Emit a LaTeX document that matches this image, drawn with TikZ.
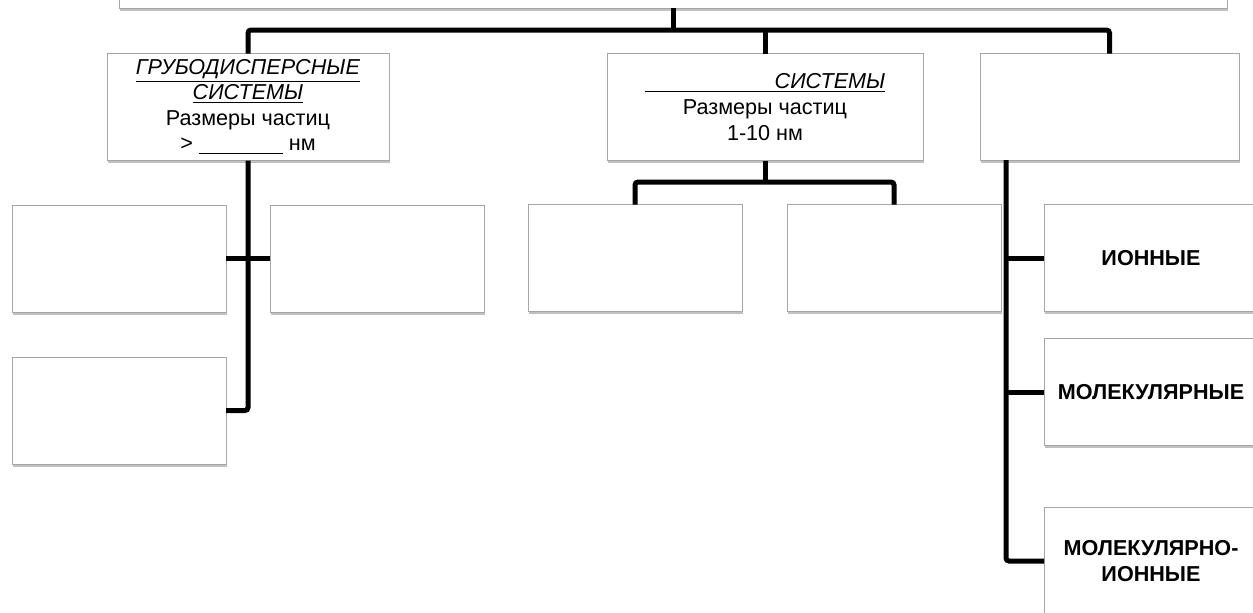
\documentclass[tikz,border=0pt]{standalone}
\usepackage{fontspec}
\setmainfont{Liberation Sans}
\usetikzlibrary{shadows}

\tikzset{
    box/.style={draw=black!35, line width=0.5pt, fill=white, inner sep=0pt, outer sep=0pt,
        minimum width=107pt, minimum height=53.5pt, align=center,
        font=\fontsize{10.8}{12.8}\selectfont,
        drop shadow={shadow xshift=0.5pt, shadow yshift=-1.4pt, opacity=0.3, fill=black!80}},
    link/.style={line width=2.5pt, rounded corners=1.5pt}
}

\begin{document}
\begin{tikzpicture}[x=0.5pt, y=-0.5pt]
    \useasboundingbox (0,0) rectangle (1253,612);
    \clip (0,0) rectangle (1253,612);

    % Top level
    \node[box, minimum width=554pt, minimum height=30pt] (top) at (673,-22) {};

    % Second level
    \node[box, minimum width=141pt] (coarse) at (248,107)
        {\underline{\textit{ГРУБОДИСПЕРСНЫЕ}}\\
         \underline{\textit{СИСТЕМЫ}}\\
         Размеры частиц\\
         > \underline{\hspace{42pt}} нм};
    \node[box, minimum width=158pt] (colloid) at (765,107)
        {\underline{\hspace{65pt}\textit{СИСТЕМЫ}}\\
         Размеры частиц\\
         1-10 нм};
    \node[box, minimum width=129.5pt] (true) at (1109.5,107) {};

    % Coarse branch
    \node[box] (susp) at (119,258.5) {};
    \node[box] (emul) at (377,258.5) {};
    \node[box] (aero) at (119,410.5) {};

    % Colloid branch
    \node[box] (sol) at (635,258) {};
    \node[box] (gel) at (894,258) {};

    % True solutions branch
    \node[box, font=\fontsize{10.8}{12.8}\selectfont\bfseries] (ion) at (1151,258) {ИОННЫЕ};
    \node[box, font=\fontsize{10.8}{12.8}\selectfont\bfseries] (mol) at (1151,392) {МОЛЕКУЛЯРНЫЕ};
    \node[box, font=\fontsize{10.8}{12.8}\selectfont\bfseries] (molion) at (1151,561) {МОЛЕКУЛЯРНО-\\ИОННЫЕ};

    % Connectors
    \coordinate (bus) at (0,30);
    \coordinate (sub) at (0,182);
    \coordinate (spine) at (1006,160);

    \draw[link] (top.south) -- (top.south |- bus);
    \draw[link] (coarse.north) |- (bus -| true.north) -- (true.north);
    \draw[link] (colloid.north) -- (colloid.north |- bus);

    \draw[link] (coarse.south) |- (aero.east);
    \draw[link] (susp.east) -- (emul.west);

    \draw[link] (colloid.south) -- (colloid.south |- sub);
    \draw[link] (sol.north) |- (sub -| gel.north) -- (gel.north);

    \draw[link] (spine) |- (molion.west);
    \foreach \n in {ion,mol}
        \draw[link] (\n.west) -- (\n.west -| spine);
\end{tikzpicture}
\end{document}
